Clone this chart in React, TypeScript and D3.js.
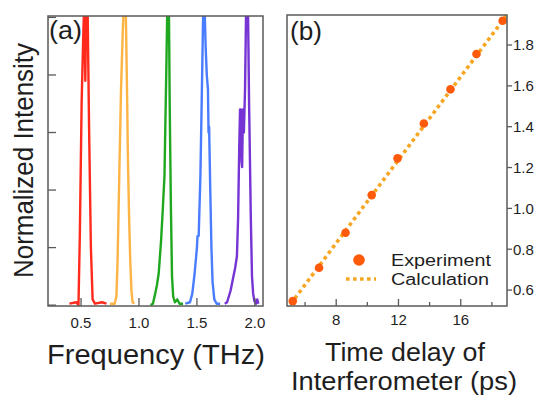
import React, { useRef, useEffect } from 'react';
import * as d3 from 'd3';

// Panel (a): spectra, [frequency (THz), normalized intensity]
const redSpectrum: [number, number][] = [
  [0.40, 0.005], [0.46, 0.01], [0.478, 0.0], [0.49, 0.25], [0.505, 0.7], [0.52, 0.95], [0.528, 1.05],
  [0.537, 0.78], [0.545, 1.05], [0.556, 1.05], [0.57, 0.6], [0.585, 0.2], [0.60, 0.02], [0.62, 0.005],
  [0.68, 0.01], [0.72, 0.005],
];
const orangeSpectrum: [number, number][] = [
  [0.75, 0.005], [0.79, 0.005], [0.805, 0.03], [0.815, 0.15], [0.83, 0.45], [0.845, 0.75], [0.86, 0.95],
  [0.87, 1.05], [0.885, 1.05], [0.895, 0.8], [0.905, 0.5], [0.915, 0.3], [0.925, 0.15], [0.935, 0.05],
  [0.945, 0.01], [0.96, 0.005],
];
const greenSpectrum: [number, number][] = [
  [1.10, 0.0], [1.12, 0.005], [1.14, 0.04], [1.155, 0.07], [1.17, 0.11], [1.19, 0.22], [1.205, 0.33],
  [1.22, 0.45], [1.235, 0.8], [1.245, 1.05], [1.258, 1.05], [1.265, 0.7], [1.275, 0.35], [1.285, 0.1],
  [1.295, 0.03], [1.31, 0.01], [1.33, 0.02], [1.35, 0.005], [1.38, 0.005],
];
const blueSpectrum: [number, number][] = [
  [1.40, 0.005], [1.44, 0.01], [1.46, 0.04], [1.48, 0.11], [1.50, 0.2], [1.505, 0.24], [1.515, 0.24],
  [1.53, 0.45], [1.545, 0.8], [1.555, 1.05], [1.565, 1.05], [1.575, 0.9], [1.585, 0.8], [1.595, 0.75],
  [1.60, 0.6], [1.605, 0.62], [1.615, 0.4], [1.625, 0.2], [1.635, 0.08], [1.65, 0.02], [1.67, 0.005],
  [1.70, 0.005],
];
const purpleSpectrum: [number, number][] = [
  [1.74, 0.005], [1.76, 0.01], [1.775, 0.03], [1.79, 0.05], [1.81, 0.09], [1.83, 0.13], [1.845, 0.17],
  [1.855, 0.3], [1.865, 0.55], [1.872, 0.68], [1.878, 0.68], [1.885, 0.5], [1.89, 0.48], [1.897, 0.68],
  [1.905, 0.6], [1.915, 0.75], [1.925, 1.05], [1.94, 1.05], [1.95, 0.7], [1.965, 0.3], [1.975, 0.1],
  [1.985, 0.04], [1.995, 0.015], [2.01, 0.005], [2.02, 0.02], [2.03, 0.005],
];
const spectra = [redSpectrum, orangeSpectrum, greenSpectrum, blueSpectrum, purpleSpectrum];
const spectrumColors = ['#ff2a1c', '#fdb445', '#1fa81f', '#4a7cff', '#7634d4'];
const freqTicks = [0.5, 1.0, 1.5, 2.0];
const intensityTicks = [0, 0.2, 0.4, 0.6, 0.8, 1.0];

// Panel (b): experiment vs calculation
const delayExp = [5.21, 6.90, 8.60, 10.28, 11.94, 13.63, 15.34, 17.01, 18.69];
const freqExp = [0.546, 0.709, 0.881, 1.065, 1.245, 1.416, 1.583, 1.756, 1.919];
const delayCalc = [4.8, 19.0];
const freqCalc = [0.504, 1.951];
const delayTicks = [6, 8, 10, 12, 14, 16, 18];
const delayLabels = [8, 12, 16];
const freqTicksB = [0.6, 0.8, 1.0, 1.2, 1.4, 1.6, 1.8];

const FONT = '"Liberation Sans", Arial, sans-serif';
const TEXT = '#1e1e1e';
const FRAME = '#5a5a5a';

const App = () => {
  const svgRef = useRef<SVGSVGElement>(null);

  useEffect(() => {
    const svg = d3.select(svgRef.current);
    svg.selectAll('*').remove();

    // ---------- panel (a) ----------
    const a = { left: 48, right: 263, top: 16, bottom: 306 };
    const xA = d3.scaleLinear().domain([0.215, 2.07]).range([a.left, a.right]);
    const yA = d3.scaleLinear().domain([-0.003, 1.005]).range([a.bottom, a.top]);

    svg.append('clipPath').attr('id', 'clipA')
      .append('rect').attr('x', a.left).attr('y', a.top)
      .attr('width', a.right - a.left).attr('height', a.bottom - a.top);

    const lineA = d3.line<[number, number]>().x(d => xA(d[0])).y(d => yA(d[1]));
    svg.append('g').attr('clip-path', 'url(#clipA)')
      .selectAll('path')
      .data(spectra)
      .join('path')
      .attr('d', d => lineA(d))
      .attr('fill', 'none')
      .attr('stroke', (d, i) => spectrumColors[i])
      .attr('stroke-width', 2.4)
      .attr('stroke-linejoin', 'round');

    // inward ticks
    svg.append('g').selectAll('line')
      .data(intensityTicks)
      .join('line')
      .attr('x1', a.left).attr('x2', a.left + 8)
      .attr('y1', d => yA(d)).attr('y2', d => yA(d))
      .attr('stroke', FRAME).attr('stroke-width', 1.3);
    svg.append('g').selectAll('line')
      .data(freqTicks)
      .join('line')
      .attr('x1', d => xA(d)).attr('x2', d => xA(d))
      .attr('y1', a.bottom).attr('y2', a.bottom - 8)
      .attr('stroke', FRAME).attr('stroke-width', 1.3);
    svg.append('g').selectAll('text')
      .data(freqTicks)
      .join('text')
      .attr('x', d => xA(d)).attr('y', 328)
      .attr('text-anchor', 'middle')
      .attr('font-family', FONT).attr('font-size', 15).attr('fill', TEXT)
      .text(d => d.toFixed(1));

    svg.append('rect')
      .attr('x', a.left).attr('y', a.top)
      .attr('width', a.right - a.left).attr('height', a.bottom - a.top)
      .attr('fill', 'none').attr('stroke', FRAME).attr('stroke-width', 1.5);

    svg.append('text')
      .attr('x', 49).attr('y', 39)
      .attr('font-family', FONT).attr('font-size', 25).attr('fill', TEXT)
      .attr('textLength', 33).attr('lengthAdjust', 'spacingAndGlyphs')
      .text('(a)');

    svg.append('text')
      .attr('transform', 'translate(33,160.5) rotate(-90)')
      .attr('text-anchor', 'middle')
      .attr('font-family', FONT).attr('font-size', 27).attr('fill', TEXT)
      .attr('textLength', 235).attr('lengthAdjust', 'spacingAndGlyphs')
      .text('Normalized Intensity');

    svg.append('text')
      .attr('x', 156).attr('y', 364)
      .attr('text-anchor', 'middle')
      .attr('font-family', FONT).attr('font-size', 28).attr('fill', TEXT)
      .attr('textLength', 218).attr('lengthAdjust', 'spacingAndGlyphs')
      .text('Frequency (THz)');

    // ---------- panel (b) ----------
    const b = { left: 287, right: 507, top: 15, bottom: 306 };
    const xB = d3.scaleLinear().domain([4.84, 18.97]).range([b.left, b.right]);
    const yB = d3.scaleLinear().domain([0.522, 1.947]).range([b.bottom, b.top]);

    svg.append('clipPath').attr('id', 'clipB')
      .append('rect').attr('x', b.left).attr('y', b.top)
      .attr('width', b.right - b.left).attr('height', b.bottom - b.top);

    const calc = delayCalc.map((d, i) => [d, freqCalc[i]] as [number, number]);
    const lineB = d3.line<[number, number]>().x(d => xB(d[0])).y(d => yB(d[1]));
    svg.append('path')
      .attr('clip-path', 'url(#clipB)')
      .attr('d', lineB(calc))
      .attr('fill', 'none')
      .attr('stroke', '#f6a623')
      .attr('stroke-width', 3.6)
      .attr('stroke-dasharray', '3.6,3.4');

    svg.append('g').attr('clip-path', 'url(#clipB)')
      .selectAll('circle')
      .data(delayExp)
      .join('circle')
      .attr('cx', d => xB(d))
      .attr('cy', (d, i) => yB(freqExp[i]))
      .attr('r', 4.3)
      .attr('fill', '#ff5a0a');

    // ticks: bottom inward, right outward
    svg.append('g').selectAll('line')
      .data(delayTicks)
      .join('line')
      .attr('x1', d => xB(d)).attr('x2', d => xB(d))
      .attr('y1', b.bottom).attr('y2', d => b.bottom - (delayLabels.includes(d) ? 7 : 4))
      .attr('stroke', FRAME).attr('stroke-width', 1.3);
    svg.append('g').selectAll('text')
      .data(delayLabels)
      .join('text')
      .attr('x', d => xB(d)).attr('y', 325)
      .attr('text-anchor', 'middle')
      .attr('font-family', FONT).attr('font-size', 15).attr('fill', TEXT)
      .text(d => d);

    svg.append('g').selectAll('line')
      .data(freqTicksB)
      .join('line')
      .attr('x1', b.right).attr('x2', b.right + 5)
      .attr('y1', d => yB(d)).attr('y2', d => yB(d))
      .attr('stroke', FRAME).attr('stroke-width', 1.3);
    svg.append('g').selectAll('text')
      .data(freqTicksB)
      .join('text')
      .attr('x', b.right + 6).attr('y', d => yB(d))
      .attr('dy', '0.36em')
      .attr('font-family', FONT).attr('font-size', 15).attr('fill', TEXT)
      .text(d => d.toFixed(1));

    svg.append('rect')
      .attr('x', b.left).attr('y', b.top)
      .attr('width', b.right - b.left).attr('height', b.bottom - b.top)
      .attr('fill', 'none').attr('stroke', FRAME).attr('stroke-width', 1.5);

    svg.append('text')
      .attr('x', 290).attr('y', 40)
      .attr('font-family', FONT).attr('font-size', 25).attr('fill', TEXT)
      .attr('textLength', 32).attr('lengthAdjust', 'spacingAndGlyphs')
      .text('(b)');

    // legend
    const legend = svg.append('g');
    legend.append('circle').attr('cx', 359).attr('cy', 260).attr('r', 5.8).attr('fill', '#ff5a0a');
    legend.append('line')
      .attr('x1', 346).attr('x2', 376).attr('y1', 279).attr('y2', 279)
      .attr('stroke', '#f6a623').attr('stroke-width', 3.6).attr('stroke-dasharray', '3.6,3.4');
    legend.append('text')
      .attr('x', 391).attr('y', 266)
      .attr('font-family', FONT).attr('font-size', 16).attr('fill', TEXT)
      .attr('textLength', 100).attr('lengthAdjust', 'spacingAndGlyphs')
      .text('Experiment');
    legend.append('text')
      .attr('x', 391).attr('y', 285)
      .attr('font-family', FONT).attr('font-size', 16).attr('fill', TEXT)
      .attr('textLength', 98).attr('lengthAdjust', 'spacingAndGlyphs')
      .text('Calculation');

    svg.append('text')
      .attr('x', 405).attr('y', 361)
      .attr('text-anchor', 'middle')
      .attr('font-family', FONT).attr('font-size', 26).attr('fill', TEXT)
      .attr('textLength', 160).attr('lengthAdjust', 'spacingAndGlyphs')
      .text('Time delay of');
    svg.append('text')
      .attr('x', 404).attr('y', 390)
      .attr('text-anchor', 'middle')
      .attr('font-family', FONT).attr('font-size', 25).attr('fill', TEXT)
      .attr('textLength', 226).attr('lengthAdjust', 'spacingAndGlyphs')
      .text('Interferometer (ps)');
  }, []);

  return (
    <svg
      ref={svgRef}
      width="540"
      height="396"
      style={{ position: 'absolute', left: 0, top: 0, background: '#fff' }}
    ></svg>
  );
};

export default App;
